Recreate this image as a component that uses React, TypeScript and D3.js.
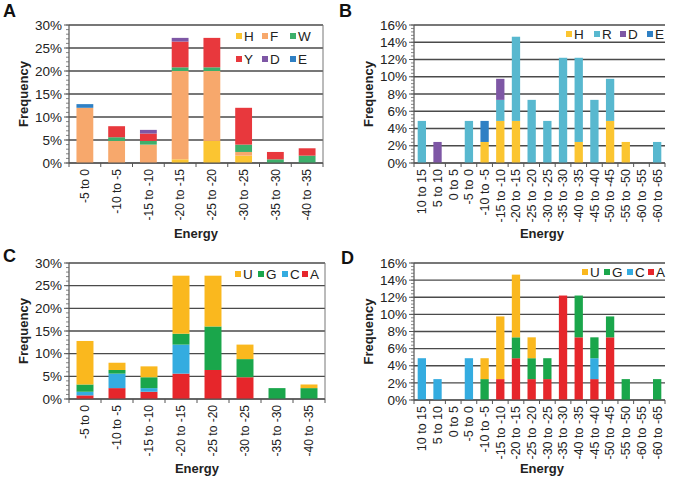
import React from 'react';
import * as d3 from 'd3';

const catsAC = ["-5 to 0", "-10 to -5", "-15 to -10", "-20 to -15", "-25 to -20", "-30 to -25", "-35 to -30", "-40 to -35"];
const catsBD = ["10 to 15", "5 to 10", "0 to 5", "-5 to 0", "-10 to -5", "-15 to -10", "-20 to -15", "-25 to -20", "-30 to -25", "-35 to -30", "-40 to -35", "-45 to -40", "-50 to -45", "-55 to -50", "-60 to -55", "-60 to -65"];

// Panel A (percent), stacked bottom -> top: H, F, W, Y, D, E
const aH = [0, 0, 0, 0.8, 4.8, 1.6, 0, 0];
const aF = [12.0, 4.8, 4.0, 19.2, 15.2, 0.8, 0, 0];
const aW = [0, 0.8, 0.8, 0.8, 0.8, 1.6, 0.8, 1.6];
const aY = [0, 2.4, 1.6, 5.6, 6.4, 8.0, 1.6, 1.6];
const aD = [0, 0, 0.8, 0.8, 0, 0, 0, 0];
const aE = [0.8, 0, 0, 0, 0, 0, 0, 0];

// Panel B, stacked: H, R, D, E
const bH = [0, 0, 0, 0, 2.44, 4.88, 4.88, 0, 0, 0, 2.44, 0, 4.88, 2.44, 0, 0];
const bR = [4.88, 0, 0, 4.88, 0, 2.44, 9.76, 7.32, 4.88, 12.2, 9.76, 7.32, 4.88, 0, 0, 2.44];
const bD = [0, 2.44, 0, 0, 0, 2.44, 0, 0, 0, 0, 0, 0, 0, 0, 0, 0];
const bE = [0, 0, 0, 0, 2.44, 0, 0, 0, 0, 0, 0, 0, 0, 0, 0, 0];

// Panel C, stacked: A, C, G, U
const cA = [0.8, 2.4, 1.6, 5.6, 6.4, 4.8, 0, 0];
const cC = [0.8, 3.2, 0.8, 6.4, 0, 0, 0, 0];
const cG = [1.6, 0.8, 2.4, 2.4, 9.6, 4.0, 2.4, 2.4];
const cU = [9.6, 1.6, 2.4, 12.8, 11.2, 3.2, 0, 0.8];

// Panel D, stacked: A, C, G, U
const dA = [0, 0, 0, 0, 0, 2.44, 4.88, 2.44, 2.44, 12.2, 7.32, 2.44, 7.32, 0, 0, 0];
const dC = [4.88, 2.44, 0, 4.88, 0, 0, 0, 0, 0, 0, 0, 2.44, 0, 0, 0, 0];
const dG = [0, 0, 0, 0, 2.44, 0, 2.44, 2.44, 2.44, 0, 4.88, 2.44, 2.44, 2.44, 0, 2.44];
const dU = [0, 0, 0, 0, 2.44, 7.32, 7.32, 2.44, 0, 0, 0, 0, 0, 0, 0, 0];

const COL: Record<string, string> = {
  H: '#FBC531', F: '#F7A86C', W: '#3DAF6B', Y: '#E8383D', D: '#7E57A5', E: '#2F80C4',
  R: '#58B8CF',
  U: '#FAB81E', G: '#1AA64B', C: '#34ACE0', A: '#E6262B',
};

const FONT = 'Liberation Sans, Arial, sans-serif';

type Series = { key: string; values: number[] };
type LegendItem = { key: string; x: number; y: number };

interface PanelProps {
  letter: string;
  letterX: number;
  letterY: number;
  cats: string[];
  series: Series[];
  left: number; right: number; top: number; bottom: number;
  yMax: number; major: number; minor: number;
  rightBorder: boolean;
  legend: LegendItem[];
  freqX: number;
  energyX: number; energyY: number;
  xFont: number;
}

function Panel(p: PanelProps) {
  const x = d3.scaleBand<string>().domain(p.cats).range([p.left, p.right]).paddingInner(0.47).paddingOuter(0.235);
  const xb = d3.scaleBand<string>().domain(p.cats).range([p.left, p.right]);
  const y = d3.scaleLinear().domain([0, p.yMax]).range([p.bottom, p.top]);
  const majors = d3.range(0, p.yMax + 1e-9, p.major);
  const minors = d3.range(0, p.yMax + 1e-9, p.minor);
  const stack = d3.stack<number>().keys(p.series.map(s => s.key)).value((i, k) => p.series.find(s => s.key === k)!.values[i]);
  const layers = stack(d3.range(p.cats.length));
  const fmt = (v: number) => `${Math.round(v)}%`;
  return (
    <g fontFamily={FONT}>
      <text x={p.letterX} y={p.letterY} fontSize={18} fontWeight="bold" fill="#111">{p.letter}</text>
      {majors.map(v => (
        <line key={'g' + v} x1={p.left} x2={p.right} y1={y(v)} y2={y(v)} stroke="#4a4a4a" strokeWidth={1.3} />
      ))}
      {p.rightBorder && <line x1={p.right} x2={p.right} y1={p.top} y2={p.bottom} stroke="#777" strokeWidth={1} />}
      {layers.map(layer => (
        <g key={layer.key} fill={COL[layer.key]}>
          {layer.map((d, i) => d[1] - d[0] > 0 ? (
            <rect key={i} x={x(p.cats[i])} width={x.bandwidth()} y={y(d[1])} height={y(d[0]) - y(d[1])} />
          ) : null)}
        </g>
      ))}
      <line x1={p.left} x2={p.left} y1={p.top} y2={p.bottom} stroke="#555" strokeWidth={1.2} />
      {minors.map(v => (
        <line key={'m' + v} x1={p.left - 3} x2={p.left} y1={y(v)} y2={y(v)} stroke="#666" strokeWidth={0.8} />
      ))}
      {majors.map(v => (
        <g key={'t' + v}>
          <line x1={p.left - 5} x2={p.left} y1={y(v)} y2={y(v)} stroke="#555" strokeWidth={1} />
          <text x={p.left - 7} y={y(v)} dy="0.35em" textAnchor="end" fontSize={13.5} fill="#222">{fmt(v)}</text>
        </g>
      ))}
      <line x1={p.left} x2={p.right} y1={p.bottom} y2={p.bottom} stroke="#555" strokeWidth={1.2} />
      {d3.range(p.cats.length + 1).map(i => {
        const xx = i < p.cats.length ? xb(p.cats[i])! : p.right;
        return <line key={'xt' + i} x1={xx} x2={xx} y1={p.bottom} y2={p.bottom + 4} stroke="#555" strokeWidth={1} />;
      })}
      {p.cats.map(c => {
        const cx = xb(c)! + xb.bandwidth() / 2;
        const ty = p.bottom + 6;
        return (
          <text key={'xl' + c} transform={`translate(${cx},${ty}) rotate(-90)`} textAnchor="end" dy="0.35em" fontSize={p.xFont} fill="#222">{c}</text>
        );
      })}
      <text transform={`translate(${p.freqX},${(p.top + p.bottom) / 2}) rotate(-90)`} textAnchor="middle" dy="0.35em" fontSize={13} fontWeight="bold" fill="#222">Frequency</text>
      <text x={p.energyX} y={p.energyY} textAnchor="middle" fontSize={13} fontWeight="bold" fill="#222">Energy</text>
      {p.legend.map(l => (
        <g key={'lg' + l.key}>
          <rect x={l.x} y={l.y - 3} width={6} height={6} fill={COL[l.key]} />
          <text x={l.x + 8} y={l.y} dy="0.36em" fontSize={13.5} fill="#222">{l.key}</text>
        </g>
      ))}
    </g>
  );
}

export default function App() {
  return (
    <svg width={675} height={478} style={{ position: 'absolute', left: 0, top: 0, background: '#fff' }}>
      <rect width={675} height={478} fill="#fff" />
      <Panel
        letter="A" letterX={3} letterY={17}
        cats={catsAC}
        series={[{ key: 'H', values: aH }, { key: 'F', values: aF }, { key: 'W', values: aW }, { key: 'Y', values: aY }, { key: 'D', values: aD }, { key: 'E', values: aE }]}
        left={69} right={323} top={25} bottom={163}
        yMax={30} major={5} minor={1} rightBorder={true}
        legend={[
          { key: 'H', x: 236, y: 36 }, { key: 'F', x: 262, y: 36 }, { key: 'W', x: 290, y: 36 },
          { key: 'Y', x: 236, y: 59 }, { key: 'D', x: 262, y: 59 }, { key: 'E', x: 290, y: 59 },
        ]}
        freqX={23} energyX={196} energyY={238} xFont={12}
      />
      <Panel
        letter="B" letterX={339} letterY={17}
        cats={catsBD}
        series={[{ key: 'H', values: bH }, { key: 'R', values: bR }, { key: 'D', values: bD }, { key: 'E', values: bE }]}
        left={414} right={665} top={25} bottom={163}
        yMax={16} major={2} minor={0.4} rightBorder={false}
        legend={[
          { key: 'H', x: 566, y: 34 }, { key: 'R', x: 594, y: 34 }, { key: 'D', x: 620, y: 34 }, { key: 'E', x: 647, y: 34 },
        ]}
        freqX={368} energyX={542} energyY={238} xFont={12.5}
      />
      <Panel
        letter="C" letterX={3} letterY={262}
        cats={catsAC}
        series={[{ key: 'A', values: cA }, { key: 'C', values: cC }, { key: 'G', values: cG }, { key: 'U', values: cU }]}
        left={69} right={325} top={263} bottom={399}
        yMax={30} major={5} minor={1} rightBorder={true}
        legend={[
          { key: 'U', x: 235, y: 274 }, { key: 'G', x: 258, y: 274 }, { key: 'C', x: 282, y: 274 }, { key: 'A', x: 302, y: 274 },
        ]}
        freqX={23} energyX={197} energyY={473} xFont={12}
      />
      <Panel
        letter="D" letterX={341} letterY={264}
        cats={catsBD}
        series={[{ key: 'A', values: dA }, { key: 'C', values: dC }, { key: 'G', values: dG }, { key: 'U', values: dU }]}
        left={414} right={665} top={263} bottom={400}
        yMax={16} major={2} minor={0.4} rightBorder={false}
        legend={[
          { key: 'U', x: 582, y: 272 }, { key: 'G', x: 604, y: 272 }, { key: 'C', x: 627, y: 272 }, { key: 'A', x: 648, y: 272 },
        ]}
        freqX={368} energyX={542} energyY={473} xFont={12.5}
      />
    </svg>
  );
}
